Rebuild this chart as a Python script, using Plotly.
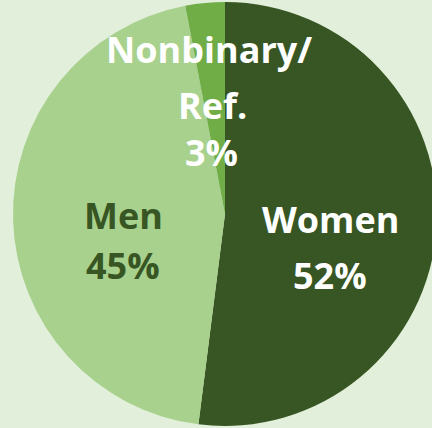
import plotly.graph_objects as go

# Data
labels = ["Women", "Men", "Nonbinary/Ref."]
values = [52, 45, 3]
slice_colors = ["#375623", "#a9d18e", "#70ad47"]
label_lines = [["Women"], ["Men"], ["Nonbinary/", "Ref."]]
label_colors = ["#ffffff", "#375623", "#ffffff"]

W, H = 437, 428
BG = "#e2efda"

fig = go.Figure(go.Pie(
    labels=labels,
    values=values,
    sort=False,
    direction="clockwise",
    rotation=0,
    marker=dict(colors=slice_colors, line=dict(width=0)),
    textinfo="none",
    hoverinfo="label+percent",
    showlegend=False,
    domain=dict(x=[13 / W, 1.0], y=[2 / H, 426 / H]),
))

# label placement (pixel centers of each text line)
label_pos = [
    [(330, 220), (330, 275)],
    [(124, 215), (123, 265)],
    [(209, 50), (212, 106), (211, 153)],
]

font_family = "Open Sans"
font_size = 36
annotations = []
for i, lines in enumerate(label_lines):
    texts = lines + [f"{values[i]}%"]
    for t, (px, py) in zip(texts, label_pos[i]):
        annotations.append(dict(
            text=f"<b>{t}</b>", x=px / W, y=1 - py / H,
            xref="paper", yref="paper", xanchor="center", yanchor="middle",
            showarrow=False,
            font=dict(family=font_family, size=font_size, color=label_colors[i]),
        ))

fig.update_layout(
    width=W, height=H,
    margin=dict(l=0, r=0, t=0, b=0),
    paper_bgcolor=BG, plot_bgcolor=BG,
    annotations=annotations,
)

fig.write_html(
    "out.html",
    config={"displayModeBar": False},
    post_script="document.body.style.margin='0';"
                "document.body.style.overflow='hidden';"
                "document.body.style.background='#e2efda';",
)
